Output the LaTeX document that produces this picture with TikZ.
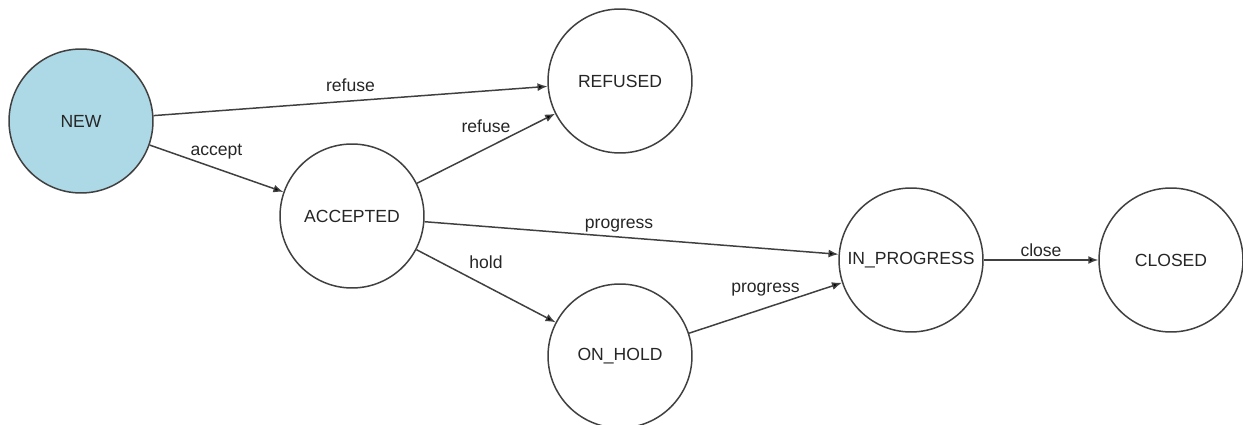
\documentclass[tikz,border=0pt]{standalone}
\usepackage{fontspec}
\setmainfont{Liberation Sans}
\usepackage{tikz}
\usetikzlibrary{
    arrows.meta,
    positioning
}
\definecolor{edgegray}{HTML}{404040}
\definecolor{newblue}{HTML}{ADD8E6}
\tikzset{
    status/.style={circle, draw=edgegray, line width=0.85pt, fill=white,
        minimum size=2.88cm, inner sep=0pt, text=black!85,
        font=\fontsize{10}{12}\selectfont},
    trans/.style={draw=edgegray, line width=0.85pt,
        -{Latex[length=2mm, width=1.6mm]}},
    lbl/.style={font=\fontsize{10}{12}\selectfont, text=black!85, inner sep=1pt, above=4pt}
}

\begin{document}
\begin{tikzpicture}[x=0.02cm, y=-0.02cm]
                        \clip (0, 0) rectangle (1243, 425);
                        \useasboundingbox (0, 0) rectangle (1243, 425);
                        \node[status, fill=newblue] (new) at (81, 121) {NEW};
                        \node[status] (refused) at (620, 81) {REFUSED};
                        \node[status] (accepted) at (352, 216) {ACCEPTED};
                        \node[status] (onhold) at (620, 356) {ON\_HOLD};
                        \node[status] (inprog) at (911, 260) {IN\_PROGRESS};
                        \node[status] (closed) at (1171, 260) {CLOSED};
                        \path[trans]
                        (new) edge node[lbl] {refuse} (refused)
                        (new) edge node[lbl] {accept} (accepted)
                        (accepted) edge node[lbl, yshift=3.4pt] {refuse} (refused)
                        (accepted) edge node[lbl, pos=0.47, yshift=-2.8pt] {progress} (inprog)
                        (accepted) edge node[lbl, yshift=4.5pt] {hold} (onhold)
                        (onhold) edge node[lbl, yshift=1.1pt] {progress} (inprog)
                        (inprog) edge node[lbl, yshift=-3.4pt] {close} (closed);
                    \end{tikzpicture}
\end{document}
